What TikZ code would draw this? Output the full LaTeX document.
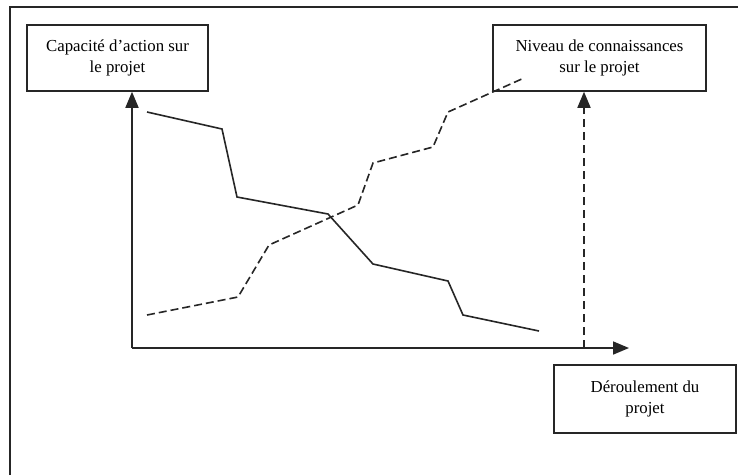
\documentclass[tikz,border=0pt]{standalone}
\usepackage{fontspec}
\setmainfont{Liberation Serif}
\usetikzlibrary{arrows.meta}
\definecolor{ink}{HTML}{262626}
\tikzset{
  labelbox/.style={draw=ink, line width=1.5pt, align=center, inner sep=0pt,
    font=\fontsize{16.8}{21.5}\selectfont},
  axisline/.style={draw=ink, line width=1.7pt},
  tip/.style={-{Triangle[length=16,width=13]}},
  curve/.style={draw=ink, line width=1.6pt, line join=miter},
  dashcurve/.style={curve, dash pattern=on 8pt off 4pt},
  framel/.style={draw=ink, line width=2pt}
}
\begin{document}
\begin{tikzpicture}[x=1pt,y=-1pt]
\useasboundingbox (0,0) rectangle (738,475);
\fill[white] (0,0) rectangle (738,475);
% outer frame (only top and left visible)
\coordinate (fbl) at (10,475);
\coordinate (ftl) at (10,7);
\coordinate (ftr) at (738,7);
\draw[framel] (fbl) -- (ftl) -- (ftr);
% boxes
\node[labelbox, minimum width=181, minimum height=66] (lbox) at (117.5,58)
  {Capacité d’action sur\\le projet};
\node[labelbox, minimum width=213, minimum height=66] (rbox) at (599.5,58)
  {Niveau de connaissances\\sur le projet};
\node[labelbox, minimum width=182, minimum height=68] (bbox) at (645,399)
  {Déroulement du\\projet};
% axes
\coordinate (o) at (132,348);
\coordinate (xend) at (629,348);
\coordinate (d0) at (584,348);
\draw[axisline, tip] (o) -- (o |- lbox.south);
\draw[axisline, tip] (o) -- (xend);
\draw[axisline, tip, dash pattern=on 8pt off 5pt] (d0) -- (d0 |- rbox.south);
% solid curve: capacity
\draw[curve] (147,112) -- (222,129) -- (237,197) -- (328,214) -- (373,264)
  -- (448,281) -- (463,315) -- (539,331);
% dashed curve: knowledge
\draw[dashcurve] (147,315) -- (238,297) -- (269,245) -- (358,205) -- (373,163)
  -- (433,147) -- (448,112) -- (524,78);
\end{tikzpicture}
\end{document}
